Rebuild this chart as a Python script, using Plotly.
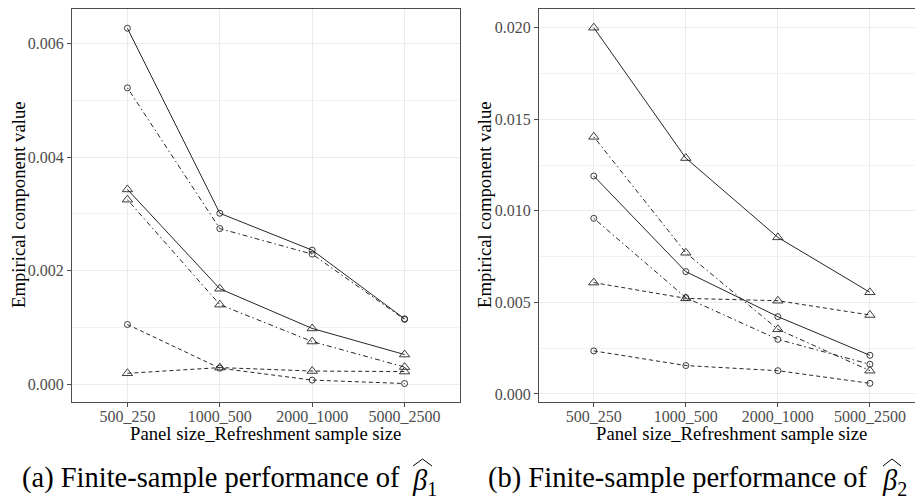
import plotly.graph_objects as go

# ---------------- data ----------------
categories = ["500_250", "1000_500", "2000_1000", "5000_2500"]

# panel (a): beta_1
b1_circle_solid = [0.00627, 0.00301, 0.00236, 0.00115]
b1_circle_dotdash = [0.00522, 0.00274, 0.00229, 0.00114]
b1_circle_dashed = [0.00105, 0.00028, 0.00007, 0.00001]
b1_tri_solid = [0.00343, 0.00168, 0.00098, 0.00052]
b1_tri_dotdash = [0.00325, 0.00140, 0.00075, 0.00030]
b1_tri_dashed = [0.00019, 0.00029, 0.00023, 0.00022]

# panel (b): beta_2
b2_tri_solid = [0.02000, 0.01288, 0.00855, 0.00555]
b2_tri_dotdash = [0.01404, 0.00771, 0.00353, 0.00127]
b2_circle_solid = [0.01190, 0.00668, 0.00422, 0.00211]
b2_circle_dotdash = [0.00959, 0.00526, 0.00298, 0.00162]
b2_tri_dashed = [0.00608, 0.00522, 0.00509, 0.00431]
b2_circle_dashed = [0.00235, 0.00155, 0.00127, 0.00058]

axis_title_x = "Panel size_Refreshment sample size"
axis_title_y = "Empirical component value"
caption_a_text = "(a) Finite-sample performance of"
caption_b_text = "(b) Finite-sample performance of"
beta_a = "<i>β</i><sub>1</sub>"
beta_b = "<i>β</i><sub>2</sub>"

# ---------------- styling ----------------
W, H = 915, 500
FONT = "Liberation Serif"
LINE_COLOR = "#262626"
DASHES = {
    "solid": "solid",
    "dotdash": "1.5px,3px,5px,3px",
    "dashed": "4px,3px",
}
MARKERS = {
    "circle": dict(symbol="circle-open", size=6),
    "tri": dict(symbol="triangle-up-open", size=9),
}

xpos = list(range(len(categories)))

fig = go.Figure()


def add_series(values, shape, dash, xa, ya):
    m = MARKERS[shape]
    fig.add_trace(go.Scatter(
        x=xpos, y=values, mode="lines+markers",
        line=dict(color=LINE_COLOR, width=1, dash=DASHES[dash]),
        marker=dict(symbol=m["symbol"], size=m["size"], color=LINE_COLOR,
                    line=dict(color=LINE_COLOR, width=0.9)),
        xaxis=xa, yaxis=ya, showlegend=False, hoverinfo="y",
    ))


for vals, shp, dsh in [
    (b1_circle_solid, "circle", "solid"),
    (b1_circle_dotdash, "circle", "dotdash"),
    (b1_circle_dashed, "circle", "dashed"),
    (b1_tri_solid, "tri", "solid"),
    (b1_tri_dotdash, "tri", "dotdash"),
    (b1_tri_dashed, "tri", "dashed"),
]:
    add_series(vals, shp, dsh, "x", "y")

for vals, shp, dsh in [
    (b2_tri_solid, "tri", "solid"),
    (b2_tri_dotdash, "tri", "dotdash"),
    (b2_circle_solid, "circle", "solid"),
    (b2_circle_dotdash, "circle", "dotdash"),
    (b2_tri_dashed, "tri", "dashed"),
    (b2_circle_dashed, "circle", "dashed"),
]:
    add_series(vals, shp, dsh, "x2", "y2")

GRID = "#EBEBEB"
MINOR_GRID = "#F2F2F2"
BORDER = "#4D4D4D"
TICKFONT = dict(family=FONT, size=16, color="#4D4D4D")


def xaxis(domain, rng, anchor):
    return dict(
        domain=domain, range=rng, anchor=anchor, automargin=False,
        tickmode="array", tickvals=xpos, ticktext=categories,
        showgrid=True, gridcolor=GRID, gridwidth=1,
        zeroline=False, showline=True, linecolor=BORDER, linewidth=1,
        mirror=True, ticks="outside", ticklen=4, tickcolor=BORDER,
        tickfont=TICKFONT, ticklabelstandoff=-4,
    )


def yaxis(domain, rng, dtick, minor_dtick, anchor):
    return dict(
        domain=domain, range=rng, anchor=anchor, automargin=False,
        tick0=0, dtick=dtick, tickformat=".3f",
        showgrid=True, gridcolor=GRID, gridwidth=1,
        minor=dict(tick0=0, dtick=minor_dtick, showgrid=True,
                   gridcolor=MINOR_GRID, gridwidth=0.6),
        zeroline=False, showline=True, linecolor=BORDER, linewidth=1,
        mirror=True, ticks="outside", ticklen=4, tickcolor=BORDER,
        tickfont=TICKFONT,
    )


ydom = [1 - 402 / H, 1 - 9 / H]
fig.update_layout(
    width=W, height=H,
    margin=dict(l=0, r=0, t=0, b=0),
    paper_bgcolor="white", plot_bgcolor="white",
    font=dict(family=FONT, color="black"),
    xaxis=xaxis([72 / W, 460 / W], [-0.6, 3.6], "y"),
    yaxis=yaxis(ydom, [-0.000316, 0.00661], 0.002, 0.001, "x"),
    xaxis2=xaxis([539 / W, 1.0], [-0.595, 3.49], "y2"),
    yaxis2=yaxis(ydom, [-0.00044, 0.02102], 0.005, 0.0025, "x2"),
)

TITLE_FONT = dict(family=FONT, size=18.7, color="black")
CAP_FONT = dict(family=FONT, size=28.5, color="black")
ann = [
    dict(text=axis_title_x, x=265 / W, y=1 - 433 / H, font=TITLE_FONT),
    dict(text=axis_title_x, x=731 / W, y=1 - 433 / H, font=TITLE_FONT),
    dict(text=axis_title_y, x=19 / W, y=1 - 205 / H, font=TITLE_FONT, textangle=-90),
    dict(text=axis_title_y, x=485 / W, y=1 - 205 / H, font=TITLE_FONT, textangle=-90),
    dict(text=caption_a_text, x=402 / W, y=1 - 478 / H, font=CAP_FONT, xanchor="right"),
    dict(text=caption_b_text, x=870 / W, y=1 - 478 / H, font=CAP_FONT, xanchor="right"),
    dict(text=beta_a, x=410 / W, y=1 - 482 / H, font=CAP_FONT, xanchor="left"),
    dict(text=beta_b, x=880 / W, y=1 - 482 / H, font=CAP_FONT, xanchor="left"),
]
for a in ann:
    a.setdefault("xanchor", "center")
    a.update(xref="paper", yref="paper", showarrow=False, yanchor="middle")
fig.update_layout(annotations=ann)

# wide hats over the betas
for x0, x1 in [(413, 432), (883, 901)]:
    xm = (x0 + x1) / 2
    path = "M {:.5f},{:.5f} L {:.5f},{:.5f} L {:.5f},{:.5f}".format(
        x0 / W, 1 - 466 / H, xm / W, 1 - 459 / H, x1 / W, 1 - 466 / H)
    fig.add_shape(type="path", path=path, xref="paper", yref="paper",
                  line=dict(color="black", width=1))

fig.write_html(
    "out.html",
    config={"displayModeBar": False},
    post_script="document.body.style.margin='0px';document.body.style.overflow='hidden';",
)
